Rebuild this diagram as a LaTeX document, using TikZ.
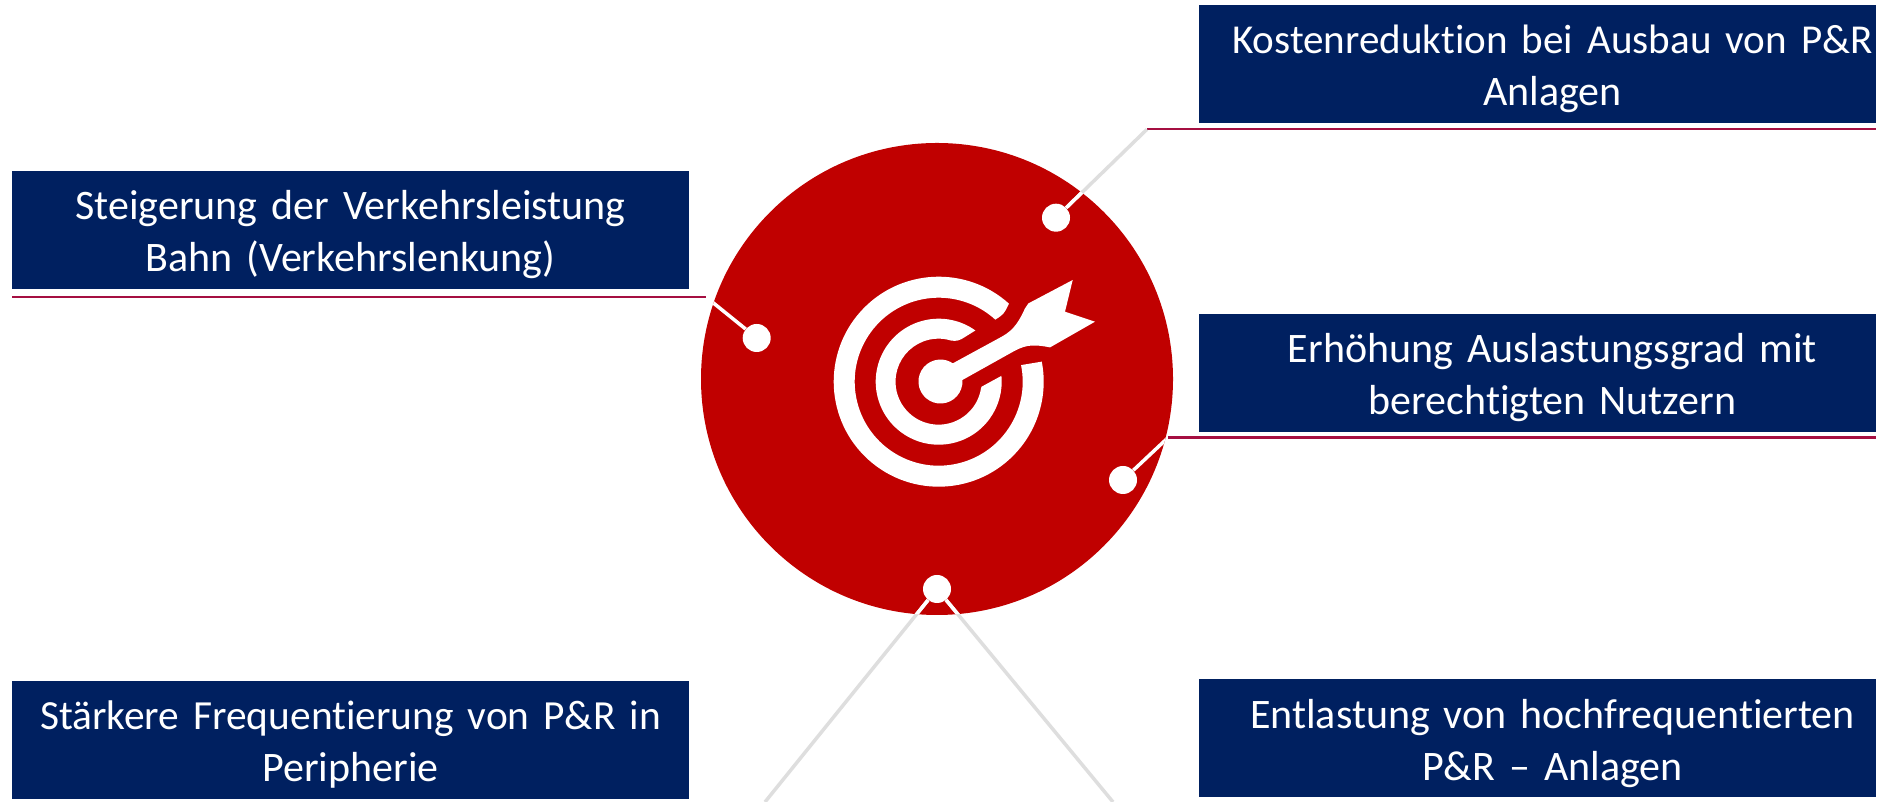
\documentclass[tikz,border=0pt]{standalone}
\usepackage{fontspec}
\setmainfont[Ligatures=NoCommon,WordSpace=0.75]{Carlito}
\usepackage{xcolor}
\definecolor{BoxBlue}{RGB}{0,32,96}
\definecolor{TargetRed}{RGB}{192,0,0}
\definecolor{RuleRed}{RGB}{165,15,65}
\definecolor{LeaderGray}{RGB}{222,222,222}
\usetikzlibrary{positioning}
\usetikzlibrary{calc}
\newcommand{\goalline}[2]{\makebox[0pt][c]{\hspace*{#1}#2}}
\newcommand{\goaltext}[3][0pt]{\rule{0pt}{49pt}\goalline{#1}{#2}\\\rule[-17pt]{0pt}{17pt}\goalline{#1}{#3}}

\begin{document}
\begin{tikzpicture}[
      , x=1pt, y=1pt
      , goal/.style={rectangle, fill=BoxBlue, text=white, inner sep=0pt, minimum width=677pt, minimum height=118pt, text width=677pt, align=center, font=\fontsize{42}{52}\selectfont}
      , dot/.style={circle, fill=white, inner sep=0pt, minimum size=28pt}
      , rule/.style={color=RuleRed, line width=2.4pt}
      , leader/.style={color=LeaderGray, line width=3.5pt}
      , white leader/.style={color=white, line width=3.5pt}
      , icon/.style={fill=white, draw=none}
      ]

      \useasboundingbox (0,0) rectangle (1903,802);

      \node[circle, fill=TargetRed, inner sep=0pt, minimum size=472pt] (target) at (937,423) {};

      % boxes
      \node[goal] (kosten) at (1537.5,738.3) {\goaltext[30pt]{\fontsize{41.1}{52}\selectfont Kostenreduktion bei Ausbau von P\&R}{Anlagen}};
      \node[goal] (auslastung) at (1537.5,429) {\goaltext[30pt]{Erhöhung Auslastungsgrad mit}{berechtigten Nutzern}};
      \node[goal] (entlastung) at (1537.5,63.5) {\goaltext[30pt]{Entlastung von hochfrequentierten}{P\&R – Anlagen}};
      \node[goal] (steigerung) at (350.5,572) {\goaltext{Steigerung der Verkehrsleistung}{Bahn (Verkehrslenkung)}};
      \node[goal] (frequenz) at (350.5,62) {\goaltext{\fontsize{41.4}{52}\selectfont Stärkere Frequentierung von P\&R in}{Peripherie}};

      % rules below the boxes
      \coordinate (kosten-a) at (1147,672.7);
      \coordinate (kosten-b) at (1876,672.7);
      \coordinate (auslastung-a) at (1168,364.3);
      \coordinate (auslastung-b) at (1876,364.3);
      \coordinate (steigerung-a) at (12,505);
      \coordinate (steigerung-b) at (706,505);
      \draw[rule] (kosten-a) -- (kosten-b);
      \draw[rule] (auslastung-a) -- (auslastung-b);
      \draw[rule] (steigerung-a) -- (steigerung-b);

      % dots
      \node[dot] (dot-kosten) at (1056,584.3) {};
      \node[dot] (dot-auslastung) at (1123,322) {};
      \node[dot] (dot-steigerung) at (756.7,464) {};
      \node[dot] (dot-unten) at (937,213) {};
      \coordinate (frequenz-end) at (765,0);
      \coordinate (entlastung-end) at (1113,0);

      \draw[leader] (dot-kosten) -- (kosten-a);
      \draw[leader] (dot-unten) -- (frequenz-end);
      \draw[leader] (dot-unten) -- (entlastung-end);

      \begin{scope}
        \clip (937,423) circle (236);
        \draw[white leader] (dot-kosten) -- (kosten-a);
        \draw[white leader] (dot-unten) -- (frequenz-end);
        \draw[white leader] (dot-unten) -- (entlastung-end);
        \draw[white leader] (dot-auslastung) -- (auslastung-a);
        \draw[white leader] (dot-steigerung) -- (steigerung-b);
      \end{scope}

      % icon
      \begin{scope}[shift={(938.7,420.3)}]
        \fill[icon] (48:105) arc[start angle=48, end angle=371, radius=105]
          -- (11.4:84) arc[start angle=371.4, end angle=47.6, radius=84]
          .. controls (65.3,67.7) .. cycle;
        \fill[icon] (54.4:63) arc[start angle=54.4, end angle=365.3, radius=63]
          -- (44.7,-4) .. controls (42.5,-5) .. (42.3,-6.7)
          arc[start angle=351, end angle=79, radius=43]
          .. controls (14,40.5) and (18,40) .. (23,42.7) -- cycle;
        \fill[icon] (14,18.3) -- (63,45) .. controls (76,52) and (81,62) .. (86.3,73.3)
          -- (89.7,78.3) -- (134,101.7) -- (126.3,70) -- (156.3,60) -- (111.3,34.3)
          .. controls (91,38.3) and (85,36) .. (71.3,28.3) -- (23.7,1.7)
          arc[start angle=4, end angle=-307.4, radius=22] -- cycle;
      \end{scope}
    \end{tikzpicture}
\end{document}
